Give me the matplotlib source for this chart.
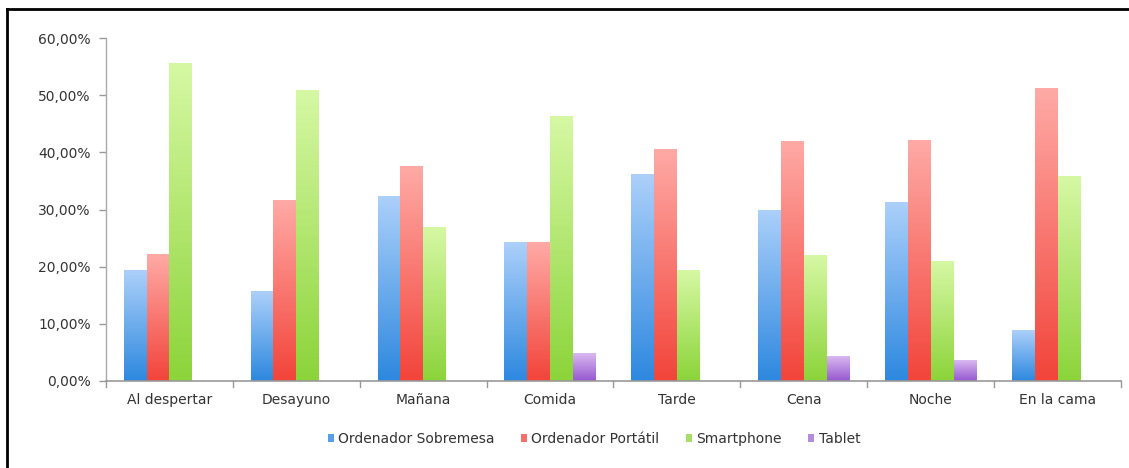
import numpy as np
import matplotlib
matplotlib.use("Agg")
import matplotlib.pyplot as plt
from matplotlib.colors import LinearSegmentedColormap
from matplotlib.lines import Line2D
from matplotlib.patches import Patch

categories = ["Al despertar", "Desayuno", "Mañana", "Comida", "Tarde", "Cena", "Noche", "En la cama"]
series_names = ["Ordenador Sobremesa", "Ordenador Portátil", "Smartphone", "Tablet"]
sobremesa = [19.4, 15.7, 32.3, 24.3, 36.2, 30.0, 31.3, 8.9]
portatil = [22.2, 31.6, 37.6, 24.3, 40.6, 42.0, 42.1, 51.2]
smartphone = [55.6, 50.9, 26.9, 46.3, 19.4, 22.0, 21.0, 35.8]
tablet = [0.0, 0.0, 0.0, 4.9, 0.0, 4.4, 3.7, 0.0]
y_ticks = [0, 10, 20, 30, 40, 50, 60]

# (bottom colour, top colour) of each series' vertical gradient
gradients = [("#2d88df", "#acd0fa"),
             ("#f2443a", "#ffaaa6"),
             ("#8cd43a", "#d6f8a4"),
             ("#9658cf", "#dcbcf2")]
legend_colors = ["#5a9fe6", "#f5706a", "#a8dd6a", "#b38ddc"]

series = [sobremesa, portatil, smartphone, tablet]

fig = plt.figure(figsize=(11.29, 4.68), dpi=100)
ax = fig.add_axes([0.0939, 0.1859, 0.8990, 0.7329])

n = len(categories)
x = np.arange(n)
width = 0.18
grad = np.linspace(0, 1, 256).reshape(-1, 1)

for i, (vals, (c0, c1)) in enumerate(zip(series, gradients)):
    offs = (i - 1.5) * width
    bars = ax.bar(x + offs, vals, width=width, color="none", edgecolor="none", zorder=2)
    cmap = LinearSegmentedColormap.from_list(f"g{i}", [c0, c1])
    for b, v in zip(bars, vals):
        if v <= 0:
            continue
        bx, by = b.get_x(), b.get_y()
        im = ax.imshow(grad, cmap=cmap, origin="lower", aspect="auto",
                       extent=(bx, bx + b.get_width(), by, by + b.get_height()),
                       zorder=2, interpolation="bilinear")
        im.set_clip_path(b)

ax.set_xlim(-0.5, n - 0.5)
ax.set_ylim(0, 60)
ax.set_yticks(y_ticks)
ax.set_yticklabels([f"{t},00%" for t in y_ticks])
ax.set_xticks(x)
ax.set_xticklabels(categories)
ax.tick_params(axis="x", length=0, pad=9, labelsize=10, labelcolor="#333333")
ax.tick_params(axis="y", length=5, width=1, color="#999999", pad=6,
               labelsize=10, labelcolor="#333333")

# category separator ticks on the x axis
for b in np.arange(-0.5, n + 0.5, 1.0):
    ax.plot([b, b], [0, -1.0], color="#999999", lw=1, clip_on=False, zorder=3)

for s in ["top", "right"]:
    ax.spines[s].set_visible(False)
ax.spines["left"].set_color("#aaaaaa")
ax.spines["bottom"].set_color("#999999")
ax.spines["left"].set_linewidth(1)
ax.spines["bottom"].set_linewidth(1.2)
ax.spines["bottom"].set_zorder(4)

handles = [Patch(facecolor=c, edgecolor="none") for c in legend_colors]
fig.legend(handles, series_names, loc="center", bbox_to_anchor=(0.526, 0.062),
           ncol=4, frameon=False, fontsize=10, handlelength=0.45, handleheight=0.45,
           handletextpad=0.3, columnspacing=1.9, labelcolor="#333333")

# outer frame
fig.add_artist(Line2D([7 / 1129, 7 / 1129], [0, 1 - 9 / 468], transform=fig.transFigure,
                      color="black", lw=2))
fig.add_artist(Line2D([7 / 1129, 1], [1 - 9 / 468, 1 - 9 / 468], transform=fig.transFigure,
                      color="black", lw=2))

fig.savefig("out.png", dpi=100)
